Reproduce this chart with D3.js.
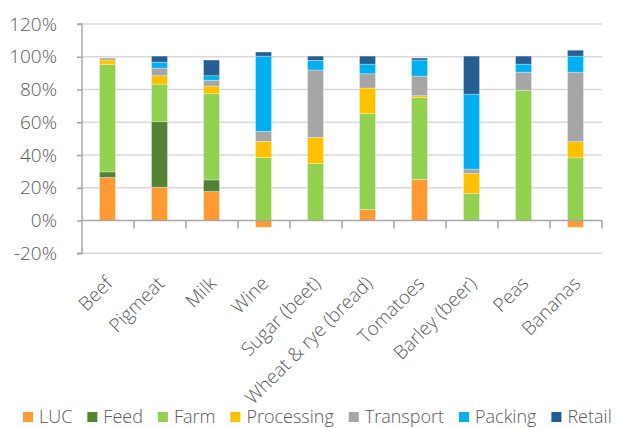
<!DOCTYPE html>
<html><head><meta charset="utf-8">
<script src="https://cdn.jsdelivr.net/npm/d3@7"></script>
<style>
html,body{margin:0;padding:0;background:#fff;}
svg{display:block;}
text{font-family:"Open Sans",sans-serif;font-weight:300;fill:#595959;}
</style></head>
<body>
<svg id="chart" width="617" height="428"></svg>
<script>
const categories = ["Beef","Pigmeat","Milk","Wine","Sugar (beet)","Wheat & rye (bread)","Tomatoes","Barley (beer)","Peas","Bananas"];
const seriesNames = ["LUC","Feed","Farm","Processing","Transport","Packing","Retail"];
const LUC        = [26.3, 20.4, 17.7, -4.1, 0,    6.7, 25,   0,    0,    -4.1];
const Feed       = [3.4,  39.9, 7.1,  0,    0,    0,   0,    0,    0,    0];
const Farm       = [65.6, 23.0, 52.6, 38.5, 34.8, 58.5, 50,  16.5, 79.6, 38.3];
const Processing = [2.7,  5.1,  4.7,  9.8,  15.9, 15.7, 1.2, 12.2, 0,    9.8];
const Transport  = [1.2,  4.7,  3.6,  6.1,  41.2, 8.7, 12.0, 2.7,  11.0, 42.5];
const Packing    = [0,    3.6,  2.7,  46.0, 5.9,  5.9, 9.8,  45.8, 4.9,  9.8];
const Retail     = [0,    3.7,  9.6,  2.5,  2.6,  4.9, 1.2,  23.2, 4.9,  3.6];
const yTicks = [-20,0,20,40,60,80,100,120];
const colors = ["#FF9933","#548235","#92D050","#FFC000","#A6A6A6","#00B0F0","#255E91"];

(function(){
const seriesValues = [LUC,Feed,Farm,Processing,Transport,Packing,Retail];
const rows = categories.map((c,i)=>{
  const r = {category:c};
  seriesNames.forEach((s,j)=>{ r[s] = seriesValues[j][i]; });
  return r;
});

const svg = d3.select("#chart");
const pLeft = 82, pRight = 602, pTop = 24, pBottom = 253.3;

const x = d3.scaleBand().domain(categories).range([pLeft,pRight]);
const y = d3.scaleLinear().domain([-20,120]).range([pBottom,pTop]);

// gridlines
svg.append("g").selectAll("line").data(yTicks.filter(d=>d!==0)).join("line")
  .attr("x1",pLeft).attr("x2",pRight)
  .attr("y1",d=>y(d)).attr("y2",d=>y(d))
  .attr("stroke","#D9D9D9").attr("stroke-width",1.5);

// y axis
const yAxis = d3.axisLeft(y).tickValues(yTicks).tickSize(5).tickPadding(20).tickFormat(d=>d+"%");
const gy = svg.append("g").attr("transform",`translate(${pLeft},0)`).call(yAxis);
gy.select(".domain").attr("stroke","#A6A6A6").attr("stroke-width",1.5).attr("d",`M-5,${pTop}H0V${pBottom}H-5`);
gy.selectAll(".tick line").attr("stroke","#A6A6A6").attr("stroke-width",1.5);
gy.selectAll(".tick text").style("font-size","19px").style("font-family","'Open Sans',sans-serif").attr("fill","#595959").style("font-weight","300");

// bars
const stack = d3.stack().keys(seriesNames).offset(d3.stackOffsetDiverging);
const stacked = stack(rows);
const bw = 16;
svg.append("g").selectAll("g").data(stacked).join("g")
  .attr("fill",(d,i)=>colors[i])
  .selectAll("rect").data(d=>d).join("rect")
  .attr("x",d=>x(d.data.category)+x.bandwidth()/2-bw/2-0.5)
  .attr("width",bw)
  .attr("y",d=>y(Math.max(d[0],d[1])))
  .attr("height",d=>Math.abs(y(d[0])-y(d[1])))
  .attr("stroke","#ffffff").attr("stroke-opacity",0.5).attr("stroke-width",0.6);

// x axis at zero
const xAxis = d3.axisBottom(x).tickSize(0).tickFormat("");
const gx = svg.append("g").attr("transform",`translate(0,${y(0)})`).call(xAxis);
gx.select(".domain").attr("stroke","#A6A6A6").attr("stroke-width",1.5).attr("d",`M${pLeft},0H${pRight}`);
const bounds = categories.map(c=>x(c)).concat([pRight]);
gx.selectAll("line.bt").data(bounds.slice(1)).join("line").attr("class","bt")
  .attr("x1",d=>d).attr("x2",d=>d).attr("y1",0).attr("y2",8)
  .attr("stroke","#A6A6A6").attr("stroke-width",1.5);

// category labels
svg.append("g").selectAll("text").data(categories).join("text")
  .attr("transform",d=>`translate(${x(d)+x.bandwidth()/2-4},${275}) rotate(-45)`)
  .attr("text-anchor","end").attr("dy","0.72em")
  .style("font-size","19px")
  .text(d=>d);

// legend
const lg = svg.append("g").attr("transform","translate(23,0)");
let cx = 0;
seriesNames.forEach((s,i)=>{
  const g = lg.append("g").attr("transform",`translate(${cx},0)`);
  g.append("rect").attr("x",0).attr("y",412).attr("width",10).attr("height",10).attr("fill",colors[i]);
  const t = g.append("text").attr("x",16).attr("y",423).style("font-size","18px").text(s);
  cx += 16 + t.node().getComputedTextLength() + 15;
});
})();
</script>
</body></html>
